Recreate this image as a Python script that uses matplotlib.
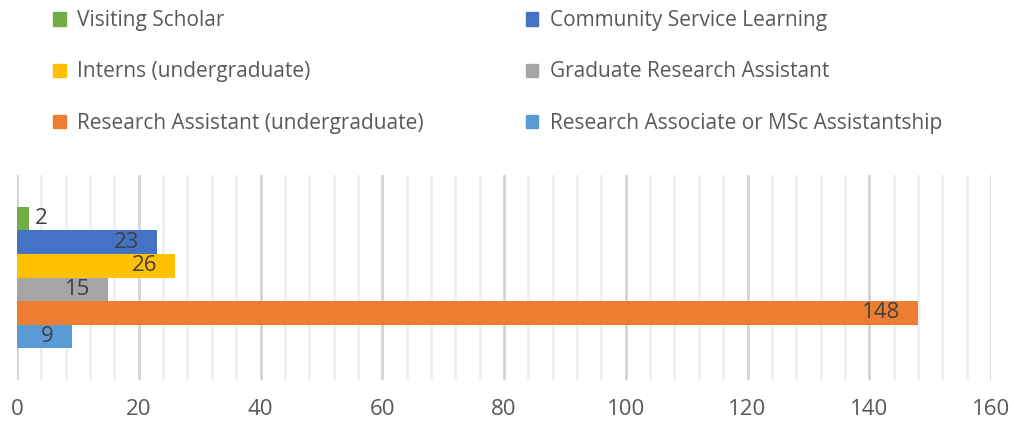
import matplotlib.pyplot as plt
from matplotlib.ticker import MultipleLocator
from matplotlib.patches import Patch

# Data
categories = ["Visiting Scholar", "Community Service Learning", "Interns (undergraduate)",
              "Graduate Research Assistant", "Research Assistant (undergraduate)",
              "Research Associate or MSc Assistantship"]
values = [2, 23, 26, 15, 148, 9]
colors = ["#70AD47", "#4472C4", "#FFC000", "#A5A5A5", "#ED7D31", "#5B9BD5"]
xticks = [0, 20, 40, 60, 80, 100, 120, 140, 160]

txt = "#595959"
plt.rcParams['font.family'] = ['Open Sans', 'DejaVu Sans']

fig = plt.figure(figsize=(10.14, 4.24), dpi=100)
ax = fig.add_axes([17/1014, 44/424, 974/1014, 205/424])

pos = list(range(len(values)))
ax.barh(pos, values, height=1.0, color=colors, zorder=3)

# value labels: inside end, except tiny bars
for p, v in zip(pos, values):
    if v < 5:
        ax.annotate(str(v), (v, p), xytext=(4, 0), textcoords="offset points",
                    ha="left", va="center", fontsize=16, color="#404040", zorder=4)
    else:
        ax.annotate(str(v), (v, p), xytext=(-13, 0), textcoords="offset points",
                    ha="right", va="center", fontsize=16, color="#404040", zorder=4)

ax.set_xlim(0, 160)
ax.set_ylim(6.86, -1.86)
ax.set_xticks(xticks)
ax.xaxis.set_minor_locator(MultipleLocator(4))
ax.set_yticks([])
ax.grid(True, axis="x", which="major", color="#D4D4D4", lw=2, zorder=0)
ax.grid(True, axis="x", which="minor", color="#EFEFEF", lw=2, zorder=0)
ax.set_axisbelow(True)
for s in ax.spines.values():
    s.set_visible(False)
ax.tick_params(axis="x", which="both", length=0, labelsize=16, labelcolor=txt, pad=14)

# legend: two columns, filled column-wise
order = [0, 2, 4, 1, 3, 5]
handles = [Patch(color=colors[i], label=categories[i]) for i in order]
fig.legend(handles=handles, ncol=2, loc="upper left", bbox_to_anchor=(0.034, 1.02),
           frameon=False, fontsize=15, labelcolor=txt, handlelength=0.6, handleheight=0.6,
           handletextpad=0.55, columnspacing=4.9, labelspacing=1.45)

fig.savefig("out.png", dpi=100)
